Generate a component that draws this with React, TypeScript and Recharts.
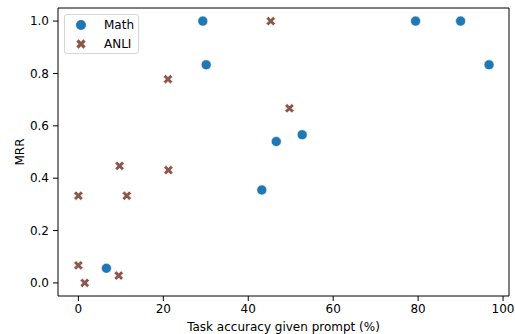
import { ScatterChart, Scatter, XAxis, YAxis, ReferenceArea, Legend } from "recharts";

// values
const mathX = [29.3, 30.1, 79.4, 90.0, 96.7, 46.6, 52.7, 43.2, 6.6];
const mathY = [1.0, 0.833, 1.0, 1.0, 0.833, 0.54, 0.566, 0.355, 0.056];
const anliX = [45.3, 49.7, 21.1, 9.7, 21.2, 0, 11.4, 0, 1.5, 9.5];
const anliY = [1.0, 0.667, 0.778, 0.447, 0.431, 0.333, 0.333, 0.067, 0, 0.028];

const xTicks = [0, 20, 40, 60, 80, 100];
const yTicks = [0, 0.2, 0.4, 0.6, 0.8, 1.0];

const BLUE = "#1f77b4";
const BROWN = "#8c564b";
const FONT = "'DejaVu Sans', sans-serif";
const FS = 12;

const mathData = mathX.map((x, i) => ({ x, y: mathY[i] }));
const anliData = anliX.map((x, i) => ({ x, y: anliY[i] }));

// matplotlib's filled "X" marker: a plus rotated by 45 degrees
function xPoints(cx: number, cy: number, half: number) {
  const w = half / 3;
  const pts = [
    [w, half], [-w, half], [-w, w], [-half, w], [-half, -w], [-w, -w],
    [-w, -half], [w, -half], [w, -w], [half, -w], [half, w], [w, w],
  ];
  const c = Math.SQRT1_2;
  return pts
    .map(([px, py]) => `${cx + (px - py) * c},${cy + (px + py) * c}`)
    .join(" ");
}

const Dot = (props: any) => (
  <circle cx={props.cx} cy={props.cy} r={5} fill={BLUE} stroke="#fff" strokeWidth={0.6} />
);

const Cross = (props: any) => (
  <polygon points={xPoints(props.cx, props.cy, 5)} fill={BROWN} stroke="#fff" strokeWidth={0.6} />
);

function LegendBox() {
  return (
    <div
      style={{
        position: "relative",
        width: 75,
        height: 40,
        boxSizing: "border-box",
        border: "1px solid #d6d6d6",
        borderRadius: 3,
        background: "rgba(255,255,255,0.8)",
        fontFamily: FONT,
        fontSize: FS,
        color: "#000",
      }}
    >
      <svg width={30} height={40} style={{ position: "absolute", left: 0, top: 0 }}>
        <circle cx={16} cy={10} r={5} fill={BLUE} />
        <polygon points={xPoints(16, 29, 5)} fill={BROWN} />
      </svg>
      <div style={{ position: "absolute", left: 39, top: 2, lineHeight: "16px" }}>Math</div>
      <div style={{ position: "absolute", left: 39, top: 21, lineHeight: "16px" }}>ANLI</div>
    </div>
  );
}

const YLabel = (props: any) => {
  const vb = props.viewBox;
  const cy = vb.y + vb.height / 2;
  return (
    <text
      x={24}
      y={cy}
      transform={`rotate(-90, 24, ${cy})`}
      textAnchor="middle"
      fontSize={FS}
      fontFamily={FONT}
      fill="#000"
    >
      MRR
    </text>
  );
};

export default function App() {
  const tick = { fontSize: FS, fontFamily: FONT, fill: "#000" };
  return (
    <div style={{ position: "absolute", left: 0, top: 0, background: "#fff" }}>
      <ScatterChart
        width={515}
        height={334}
        margin={{ top: 8, right: 6, left: 0, bottom: 0 }}
        style={{ fontFamily: FONT }}
      >
        <XAxis
          type="number"
          dataKey="x"
          domain={[-4.8, 101.4]}
          ticks={xTicks}
          interval={0}
          height={38}
          axisLine={false}
          tickLine={{ stroke: "#000" }}
          tickSize={5}
          tickMargin={3}
          tick={tick}
          label={{
            value: "Task accuracy given prompt (%)",
            position: "insideBottom",
            offset: 3,
            fontSize: FS,
            fontFamily: FONT,
            fill: "#000",
          }}
        />
        <YAxis
          type="number"
          dataKey="y"
          domain={[-0.05, 1.05]}
          ticks={yTicks}
          interval={0}
          width={58}
          axisLine={false}
          tickLine={{ stroke: "#000" }}
          tickSize={5}
          tickMargin={4}
          tick={tick}
          tickFormatter={(v: number) => v.toFixed(1)}
          label={<YLabel />}
        />
        <ReferenceArea
          x1={-4.8}
          x2={101.4}
          y1={-0.05}
          y2={1.05}
          fill="none"
          stroke="#000"
          strokeWidth={1}
          fillOpacity={0}
        />
        <Scatter name="Math" data={mathData} shape={Dot} isAnimationActive={false} />
        <Scatter name="ANLI" data={anliData} shape={Cross} isAnimationActive={false} />
        <Legend
          layout="vertical"
          align="center"
          verticalAlign="middle"
          wrapperStyle={{ left: 64, top: 14, width: 75, height: 40 }}
          content={() => <LegendBox />}
        />
      </ScatterChart>
    </div>
  );
}
